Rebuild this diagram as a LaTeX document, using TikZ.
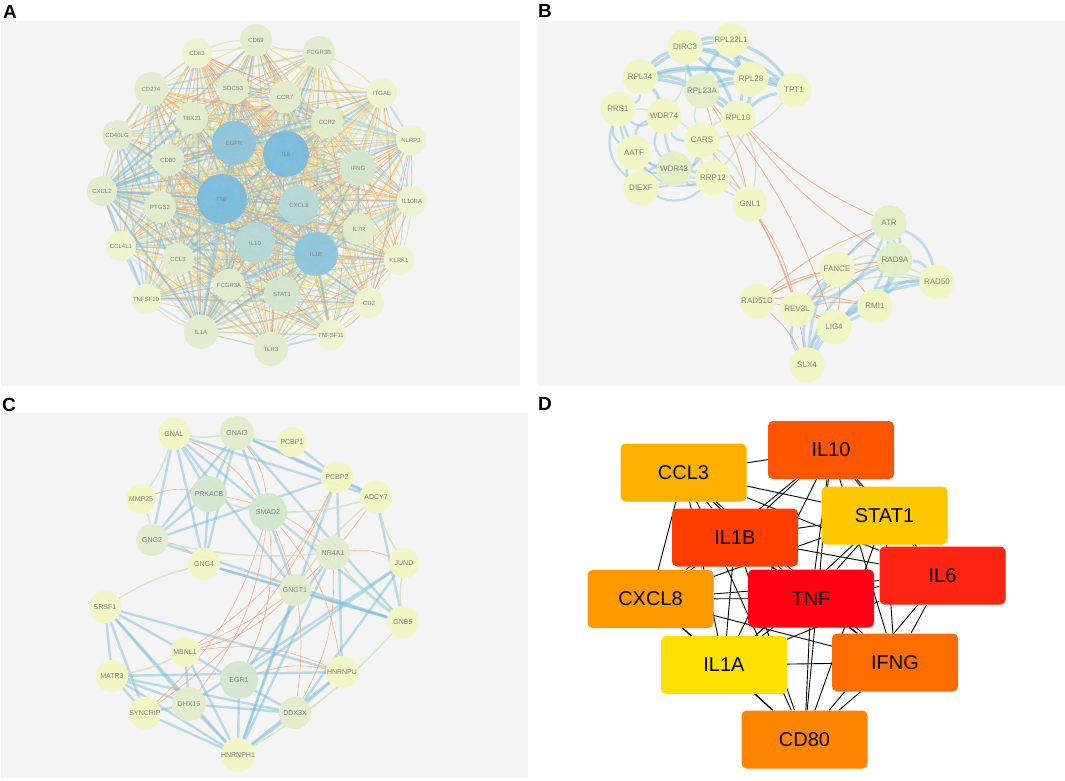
\documentclass[tikz,border=0pt]{standalone}
\usepackage{fontspec}
\setmainfont{Liberation Sans}
\pgfdeclarelayer{panelbg}
\pgfdeclarelayer{links}
\pgfsetlayers{panelbg,links,main}

\definecolor{panelgray}{HTML}{F4F4F4}
\definecolor{genetext}{HTML}{828282}
\definecolor{edgeblue}{HTML}{7DBFDD}
\definecolor{edgeorange}{HTML}{F7A272}
\definecolor{edgeyellow}{HTML}{F3DC80}
\definecolor{edgegreen}{HTML}{C9E2BA}
\definecolor{nPale}{HTML}{EEF5CD}
\definecolor{nLight}{HTML}{E2EDCB}
\definecolor{nMid}{HTML}{D2E7CE}
\definecolor{nTeal}{HTML}{B5D9D7}
\definecolor{nBlue}{HTML}{8CC5DC}
\definecolor{nDeep}{HTML}{78BCDE}
\definecolor{nYel}{HTML}{F2F7C2}
\definecolor{nYelG}{HTML}{E4EFC4}
\definecolor{cCCL3}{HTML}{FDB000}
\definecolor{cIL10}{HTML}{FF5500}
\definecolor{cIL1B}{HTML}{FF3D00}
\definecolor{cSTAT1}{HTML}{FFC800}
\definecolor{cIL6}{HTML}{FF2311}
\definecolor{cTNF}{HTML}{FF0015}
\definecolor{cCXCL8}{HTML}{FF9900}
\definecolor{cIL1A}{HTML}{FFE000}
\definecolor{cIFNG}{HTML}{FF6C00}
\definecolor{cCD80}{HTML}{FF8400}

\tikzset{
    panel/.style={fill=panelgray, draw=none},
    tag/.style={font=\fontsize{19}{19}\selectfont\bfseries, inner sep=0pt},
    geneA/.style={circle, inner sep=0pt, text=genetext, fill opacity=.94, text opacity=1, font=\fontsize{6}{7}\selectfont},
    geneB/.style={geneA, minimum size=35pt, font=\fontsize{8}{9}\selectfont},
    geneC/.style={geneA, font=\fontsize{7}{8}\selectfont},
    hubbox/.style={rectangle, rounded corners=5pt, minimum width=126pt, minimum height=58pt, inner sep=0pt, font=\fontsize{20}{20}\selectfont},
    ea1/.style={edgeorange, line width=.6pt, opacity=.8},
    ea2/.style={edgeorange, line width=.6pt, opacity=.8, bend left=12},
    ea3/.style={edgeyellow, line width=1pt, opacity=.8},
    ea4/.style={edgeyellow, line width=.9pt, opacity=.8, bend right=10},
    ea5/.style={edgegreen, line width=1.2pt, opacity=.6, bend left=6},
    ea6/.style={edgeblue, line width=1pt, opacity=.45},
    ea7/.style={edgeblue, line width=2pt, opacity=.4},
    ea8/.style={edgeorange, line width=.6pt, opacity=.8, bend right=12},
    ea9/.style={edgeyellow, line width=.8pt, opacity=.8, bend left=8},
    hublink/.style={edgeblue, line width=1.6pt, opacity=.28},
    bblue/.style={edgeblue, line width=3.2pt, opacity=.5, bend left=15},
    bloop/.style={edgeblue, line width=2.2pt, opacity=.45, bend right=35},
    bgreen/.style={edgegreen, line width=1.5pt, opacity=.7, bend left=20},
    borange/.style={edgeorange, line width=.8pt, opacity=.8, bend left=10},
    bring/.style={edgeblue, line width=2.8pt, opacity=.45, bend left=25},
    cblue/.style={edgeblue, line width=2.4pt, opacity=.5},
    corange/.style={edgeorange, line width=.6pt, opacity=.8, bend left=15},
    cgreen/.style={edgegreen, line width=1.5pt, opacity=.75, bend right=8},
    dlink/.style={black, line width=.9pt}
}

\newcommand\genesA{CD69,CD83,FCGR3B,CD274,SOCS3,CCR7,ITGAE,TBX21,CCR2,CD40LG,NLRP3,EGFR,IL6,CD80,IFNG,CXCL2,TNF,PTGS2,CXCL8,IL10RA,IL7R,IL10,CCL4L1,IL1B,KLRK1,CCL3,FCGR3A,STAT1,TNFSF10,CD2,IL1A,TNFSF11,TLR3}
\newcommand\hubsD{CCL3,IL10,IL1B,STAT1,IL6,TNF,CXCL8,IL1A,IFNG,CD80}

\begin{document}
\begin{tikzpicture}[x=1pt,y=-1pt]
    \useasboundingbox (0,0) rectangle (1065,780);
    \pgfmathsetseed{11}

    % panels and tags
    \begin{pgfonlayer}{panelbg}
        \fill[white] (0,0) rectangle (1065,780);
        \fill[panel] (1,21) rectangle (520,386);
        \fill[panel] (538,21) rectangle (1065,386);
        \fill[panel] (1,413) rectangle (528,778);
    \end{pgfonlayer}
    \node[tag] (tagA) at (10,12) {A};
    \node[tag] (tagB) at (545,11) {B};
    \node[tag] (tagC) at (9,405) {C};
    \node[tag] (tagD) at (545,404) {D};

    % A: immune genes
    \foreach \n/\px/\py/\dm/\fc in {CD69/256/40/32/nLight, CD83/197/53/30/nPale, FCGR3B/319/52/32/nLight,
        CD274/151/89/34/nLight, SOCS3/233/88/32/nLight, CCR7/285/97/32/nLight, ITGAE/382/93/30/nPale,
        TBX21/192/118/32/nLight, CCR2/327/122/32/nLight, CD40LG/117/135/30/nLight, NLRP3/411/140/30/nPale,
        EGFR/234/143/44/nBlue, IL6/286/154/46/nDeep, CD80/168/160/32/nLight, IFNG/358/168/36/nMid,
        CXCL2/102/191/30/nLight, TNF/222/199/50/nDeep, PTGS2/160/207/32/nLight, CXCL8/299/205/40/nTeal,
        IL10RA/412/201/30/nPale, IL7R/359/229/32/nLight, IL10/255/243/40/nTeal, CCL4L1/121/246/30/nPale,
        IL1B/316/254/44/nBlue, KLRK1/399/260/30/nPale, CCL3/178/259/32/nLight, FCGR3A/229/285/32/nLight,
        STAT1/282/294/36/nMid, TNFSF10/146/299/30/nPale, CD2/369/303/30/nPale, IL1A/201/332/34/nLight,
        TNFSF11/331/335/30/nPale, TLR3/271/349/34/nLight}
        \node[geneA, minimum size=\dm pt, fill=\fc] (a\n) at (\px,\py) {\n};

    \begin{pgfonlayer}{links}
        \foreach \u [count=\i] in \genesA {
            \foreach \v [count=\j] in \genesA {
                \ifnum\j>\i\relax
                    \pgfmathrandominteger{\ek}{1}{9}
                    \edef\st{ea\ek}
                    \draw[\st] (a\u) to (a\v);
                \fi
            }
        }
        \foreach \h in {TNF,IL1B,IL1A,CXCL2} {
            \foreach \u in \genesA {
                \edef\ha{\h}\edef\ub{\u}
                \ifx\ha\ub\else \draw[hublink] (a\h) to (a\u);\fi
            }
        }
    \end{pgfonlayer}

    % B: two modules
    \foreach \n/\px/\py/\fc in {DIRC3/685/47/nYel, RPL22L1/731/40/nYel, RPL34/640/77/nYel, RPL28/751/79/nYel,
        RPL23A/702/91/nYelG, TPT1/794/90/nYel, RRS1/618/109/nYel, WDR74/664/116/nYel, RPL10/738/118/nYel,
        CARS/702/140/nYel, AATF/634/153/nYel, WDR43/674/169/nYelG, RRP12/713/178/nYel, DIEXF/641/188/nYel,
        GNL1/750/204/nYel, ATR/889/223/nYelG, RAD9A/895/260/nYelG, FANCE/837/269/nYel, RAD50/937/282/nYel,
        RAD51D/757/301/nYel, REV3L/797/309/nYel, RMI1/875/306/nYel, LIG4/834/327/nYel, SLX4/807/365/nYel}
        \node[geneB, fill=\fc] (b\n) at (\px,\py) {\n};

    \begin{pgfonlayer}{links}
        \foreach \u/\v in {RPL34/RPL23A, RPL34/RPL28, RPL34/DIRC3, RPL34/RPL22L1, RPL34/RPL10, RPL34/TPT1,
            RPL23A/RPL28, RPL23A/DIRC3, RPL23A/RPL22L1, RPL23A/RPL10, RPL23A/TPT1, RPL28/RPL22L1, RPL28/TPT1,
            RPL28/RPL10, DIRC3/RPL22L1, DIRC3/RPL28, DIRC3/TPT1, RPL10/TPT1, RPL22L1/TPT1, DIRC3/RPL10,
            RPL22L1/RPL10, RPL34/WDR74}
            \draw[bblue] (b\u) to (b\v);
        \foreach \u/\v in {RRS1/AATF, RRS1/DIEXF, RRS1/WDR43, AATF/DIEXF, WDR74/WDR43, WDR74/AATF, AATF/WDR43,
            WDR43/DIEXF, WDR43/RRP12, DIEXF/RRP12, RRS1/RRP12, WDR74/RRP12, RRS1/WDR74, DIEXF/CARS, AATF/RRP12,
            RRS1/RPL34, WDR74/CARS, WDR43/CARS}
            \draw[bloop] (b\u) to (b\v);
        \foreach \u/\v in {CARS/RPL23A, CARS/RPL10, RRP12/CARS, RRP12/GNL1, WDR43/GNL1, DIEXF/GNL1, CARS/GNL1,
            RPL10/GNL1, RRS1/CARS, RPL28/RRP12, TPT1/CARS, DIRC3/WDR74,
            REV3L/RAD50, FANCE/RAD50, RAD51D/RAD50, LIG4/RMI1, FANCE/RAD9A, RAD51D/REV3L}
            \draw[bgreen] (b\u) to (b\v);
        \foreach \u/\v in {ATR/RPL10, RAD9A/RPL10, RPL23A/GNL1, RPL23A/LIG4, CARS/REV3L, GNL1/SLX4, GNL1/REV3L,
            RPL23A/RRP12, RAD51D/FANCE, RAD51D/RMI1, RAD51D/RAD9A, REV3L/RMI1, REV3L/RAD9A, FANCE/RMI1,
            FANCE/LIG4, RAD51D/LIG4, RAD51D/ATR, RAD51D/SLX4, FANCE/ATR, REV3L/FANCE, REV3L/LIG4}
            \draw[borange] (b\u) to (b\v);
        \foreach \u/\v in {ATR/RAD9A, ATR/RAD50, SLX4/ATR, ATR/LIG4, RAD9A/RAD50, SLX4/RAD50, LIG4/RAD50,
            SLX4/RMI1, SLX4/LIG4, SLX4/REV3L, SLX4/FANCE, SLX4/RAD9A, RMI1/RAD50, ATR/RMI1, ATR/REV3L, RAD9A/LIG4}
            \draw[bring] (b\u) to (b\v);
    \end{pgfonlayer}

    % C: signalling and splicing genes
    \foreach \n/\px/\py/\dm/\fc in {GNAL/174/434/32/nYel, GNAI3/237/433/34/nLight, PCBP1/292/442/30/nYel,
        PCBP2/337/477/32/nYel, ADCY7/376/497/32/nYel, MMP25/141/499/30/nYel, PRKACB/209/494/36/nMid,
        SMAD2/268/512/38/nMid, GNG2/152/540/32/nLight, NR4A1/333/553/34/nLight, JUND/404/563/30/nYel,
        GNG4/204/564/32/nYel, GNGT1/295/590/32/nLight, SRSF1/105/607/32/nYel, GNB5/403/622/32/nYel,
        MBNL1/185/652/30/nYel, HNRNPU/342/672/32/nYel, MATR3/112/676/32/nYel, EGR1/239/680/38/nMid,
        DHX15/189/704/34/nLight, DDX3X/295/713/32/nLight, SYNCRIP/145/713/32/nYel, HNRNPH1/238/755/32/nYel}
        \node[geneC, minimum size=\dm pt, fill=\fc] (c\n) at (\px,\py) {\n};

    \begin{pgfonlayer}{links}
        \foreach \u/\v in {GNAL/GNG2, GNAL/GNG4, GNAL/PRKACB, GNAL/GNGT1, GNAL/GNB5, GNAL/ADCY7, GNAI3/GNG4,
            GNAI3/GNG2, GNAI3/PRKACB, GNAI3/GNB5, GNAI3/GNGT1, GNAI3/ADCY7, GNAI3/PCBP2, PCBP1/PCBP2,
            PCBP2/ADCY7, PCBP2/HNRNPU, PCBP2/HNRNPH1, PCBP2/GNG2, ADCY7/GNB5, PRKACB/GNG4, PRKACB/GNG2,
            GNG2/GNB5, GNG4/GNB5, GNG4/GNGT1, GNGT1/GNB5, JUND/EGR1, JUND/DHX15, NR4A1/EGR1, NR4A1/HNRNPH1,
            SRSF1/MATR3, SRSF1/SYNCRIP, SRSF1/DHX15, SRSF1/HNRNPH1, SRSF1/HNRNPU, SRSF1/DDX3X, MATR3/HNRNPU,
            MATR3/SYNCRIP, MATR3/DHX15, MATR3/HNRNPH1, MATR3/DDX3X, SYNCRIP/DHX15, SYNCRIP/HNRNPH1,
            DHX15/HNRNPH1, DHX15/DDX3X, DDX3X/HNRNPH1, DDX3X/HNRNPU, HNRNPU/HNRNPH1, MBNL1/HNRNPH1,
            MBNL1/DHX15, EGR1/HNRNPH1, GNGT1/HNRNPH1, JUND/DDX3X}
            \draw[cblue] (c\u) to (c\v);
        \foreach \u/\v in {SMAD2/EGR1, SMAD2/DHX15, SMAD2/SYNCRIP, PCBP2/MBNL1, PCBP2/SYNCRIP, GNAI3/SMAD2,
            GNAL/SMAD2, NR4A1/JUND, NR4A1/DDX3X, EGR1/HNRNPU, MBNL1/HNRNPU, SMAD2/DDX3X, GNGT1/MBNL1,
            GNG2/GNG4, MMP25/PRKACB, SMAD2/HNRNPU, ADCY7/MBNL1, PRKACB/NR4A1}
            \draw[corange] (c\u) to (c\v);
        \foreach \u/\v in {GNG4/SRSF1, MMP25/GNAL, SMAD2/NR4A1, ADCY7/JUND, JUND/GNB5, PRKACB/SMAD2,
            GNG2/MMP25, SMAD2/ADCY7, GNAL/GNAI3, GNAI3/PCBP1, NR4A1/GNB5, ADCY7/GNGT1, GNG2/NR4A1,
            MATR3/MBNL1, HNRNPH1/GNB5}
            \draw[cgreen] (c\u) to (c\v);
    \end{pgfonlayer}

    % D: top ten hub genes
    \foreach \n/\px/\py in {CCL3/683.5/472.5, IL10/831/450, IL1B/735/537.5, STAT1/884.5/515.5, IL6/942.5/575.5,
        TNF/811/598.5, CXCL8/650.5/599, IL1A/724/665, IFNG/895/662.5, CD80/804.5/739.5}
        \node[hubbox, fill=c\n] (d\n) at (\px,\py) {\n};

    \begin{pgfonlayer}{links}
        \foreach \u [count=\i] in \hubsD {
            \foreach \v [count=\j] in \hubsD {
                \ifnum\j>\i\relax \draw[dlink] (d\u) -- (d\v); \fi
            }
        }
    \end{pgfonlayer}
\end{tikzpicture}
\end{document}
